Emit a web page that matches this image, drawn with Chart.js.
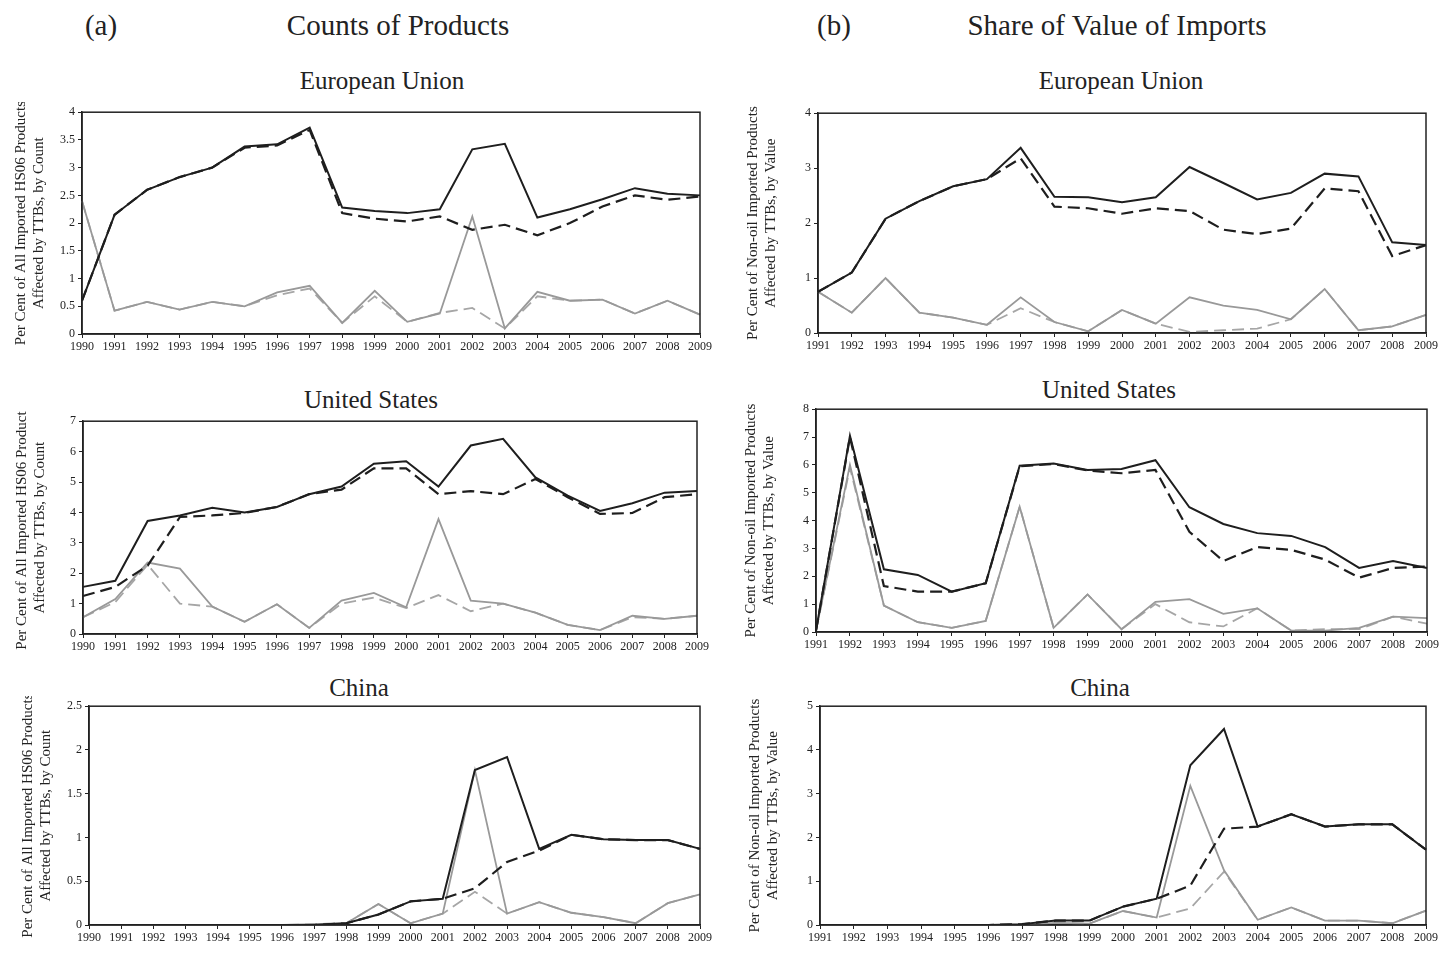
<!DOCTYPE html>
<html>
<head>
<meta charset="utf-8">
<script src="https://cdn.jsdelivr.net/npm/chart.js@4.4.1/dist/chart.umd.min.js"></script>
<style>
  body { margin: 0; background: #fff; width: 1442px; height: 954px; position: relative; overflow: hidden;
         font-family: "Liberation Serif", "Times New Roman", serif; color: #222; }
  .t { position: absolute; white-space: nowrap; line-height: 1; transform: translate(-50%, -50%); }
  .big { font-size: 29px; }
  .sub { font-size: 25px; }
  .box { position: absolute; }
</style>
</head>
<body>
<div class="t big" style="left:101px;top:25px">(a)</div>
<div class="t big" style="left:398px;top:25px">Counts of Products</div>
<div class="t big" style="left:834px;top:25px">(b)</div>
<div class="t big" style="left:1117px;top:25px">Share of Value of Imports</div>

<div class="t sub" style="left:382px;top:80px">European Union</div>
<div class="t sub" style="left:1121px;top:80px">European Union</div>
<div class="t sub" style="left:371px;top:399px">United States</div>
<div class="t sub" style="left:1109px;top:389px">United States</div>
<div class="t sub" style="left:359px;top:687px">China</div>
<div class="t sub" style="left:1100px;top:687px">China</div>

<script>
// years on the x axes
var yearsA = ['1990','1991','1992','1993','1994','1995','1996','1997','1998','1999','2000','2001','2002','2003','2004','2005','2006','2007','2008','2009'];
var yearsB = ['1991','1992','1993','1994','1995','1996','1997','1998','1999','2000','2001','2002','2003','2004','2005','2006','2007','2008','2009'];

// (a) counts of products - European Union
var euCountSolid    = [0.6,2.15,2.6,2.83,3.0,3.38,3.42,3.72,2.28,2.22,2.18,2.25,3.33,3.43,2.1,2.25,2.43,2.63,2.53,2.5];
var euCountDash     = [0.6,2.15,2.6,2.83,3.0,3.36,3.4,3.68,2.18,2.08,2.03,2.12,1.88,1.97,1.78,2.0,2.3,2.5,2.42,2.48];
var euCountGray     = [2.4,0.42,0.58,0.44,0.58,0.5,0.75,0.87,0.2,0.78,0.22,0.37,2.12,0.1,0.76,0.6,0.62,0.37,0.6,0.35];
var euCountGrayDash = [2.4,0.42,0.58,0.44,0.58,0.5,0.7,0.82,0.2,0.68,0.22,0.38,0.47,0.1,0.68,0.6,0.62,0.37,0.6,0.35];

// (b) share of value - European Union
var euValueSolid    = [0.75,1.1,2.08,2.4,2.67,2.8,3.37,2.48,2.47,2.38,2.47,3.02,2.73,2.43,2.55,2.9,2.85,1.65,1.6];
var euValueDash     = [0.75,1.1,2.08,2.4,2.67,2.8,3.18,2.3,2.27,2.17,2.27,2.22,1.88,1.8,1.9,2.63,2.58,1.4,1.6];
var euValueGray     = [0.75,0.37,1.0,0.37,0.28,0.15,0.65,0.2,0.03,0.42,0.17,0.65,0.5,0.42,0.25,0.8,0.05,0.12,0.33];
var euValueGrayDash = [0.75,0.37,1.0,0.37,0.28,0.15,0.45,0.2,0.03,0.42,0.17,0.02,0.05,0.08,0.25,0.8,0.05,0.12,0.33];

// (a) United States
var usCountSolid    = [1.55,1.75,3.72,3.9,4.15,4.0,4.18,4.6,4.85,5.6,5.68,4.85,6.2,6.42,5.15,4.55,4.05,4.3,4.65,4.7];
var usCountDash     = [1.25,1.55,2.25,3.85,3.9,3.98,4.18,4.6,4.75,5.45,5.45,4.6,4.7,4.6,5.1,4.5,3.95,3.98,4.5,4.6];
var usCountGray     = [0.55,1.15,2.35,2.15,0.9,0.4,0.98,0.2,1.1,1.35,0.88,3.78,1.1,1.0,0.7,0.3,0.13,0.6,0.5,0.6];
var usCountGrayDash = [0.55,1.05,2.28,1.0,0.9,0.4,0.98,0.2,1.0,1.2,0.85,1.28,0.75,1.0,0.7,0.3,0.13,0.55,0.5,0.6];

// (b) United States
var usValueSolid    = [0.05,7.05,2.25,2.05,1.45,1.75,5.97,6.05,5.82,5.85,6.17,4.48,3.88,3.55,3.45,3.05,2.3,2.55,2.3];
var usValueDash     = [0.05,7.0,1.65,1.45,1.45,1.75,5.95,6.03,5.8,5.7,5.82,3.6,2.55,3.05,2.95,2.6,1.95,2.3,2.35];
var usValueGray     = [0.05,6.0,0.95,0.35,0.15,0.4,4.5,0.15,1.35,0.1,1.08,1.18,0.65,0.85,0.05,0.05,0.15,0.55,0.5];
var usValueGrayDash = [0.05,5.9,0.95,0.35,0.15,0.4,4.5,0.15,1.35,0.1,1.0,0.35,0.2,0.85,0.05,0.1,0.1,0.55,0.3];

// (a) China
var cnCountSolid    = [0,0,0,0,0,0,0,0,0.02,0.12,0.27,0.3,1.77,1.92,0.87,1.03,0.98,0.97,0.97,0.87];
var cnCountDash     = [0,0,0,0,0,0,0,0,0.02,0.12,0.27,0.3,0.42,0.72,0.85,1.03,0.98,0.97,0.97,0.87];
var cnCountGray     = [0,0,0,0,0,0,0,0.01,0.02,0.24,0.02,0.13,1.77,0.13,0.26,0.14,0.09,0.02,0.25,0.35];
var cnCountGrayDash = [0,0,0,0,0,0,0,0.01,0.02,0.24,0.02,0.13,0.38,0.13,0.26,0.14,0.09,0.02,0.25,0.35];

// (b) China
var cnValueSolid    = [0,0,0,0,0,0,0.02,0.1,0.1,0.42,0.6,3.65,4.48,2.25,2.53,2.25,2.3,2.3,1.72];
var cnValueDash     = [0,0,0,0,0,0,0.02,0.1,0.1,0.42,0.6,0.9,2.2,2.25,2.53,2.25,2.3,2.3,1.72];
var cnValueGray     = [0,0,0,0,0,0,0,0.05,0.03,0.32,0.17,3.18,1.25,0.12,0.4,0.1,0.1,0.04,0.33];
var cnValueGrayDash = [0,0,0,0,0,0,0,0.05,0.03,0.32,0.17,0.38,1.22,0.12,0.4,0.1,0.1,0.04,0.33];

var countTitle = ['Per Cent of All Imported HS06 Products', 'Affected by TTBs, by Count'];
var valueTitle = ['Per Cent of Non-oil Imported Products', 'Affected by TTBs, by Value'];

// box around the plot area
var frame = {
    id: 'frame',
    afterDatasetsDraw: function (chart) {
        var a = chart.chartArea, ctx = chart.ctx;
        ctx.save();
        ctx.strokeStyle = '#222';
        ctx.lineWidth = 1.5;
        ctx.strokeRect(a.left, a.top, a.right - a.left, a.bottom - a.top);
        ctx.restore();
    }
};

function panel(L, T, R, B, labels, s, yMax, step, yTitle) {
    var left = L < 400;
    var yw = left ? 82 : 80, padTop = 10, padR = 16, xh = 26;
    var div = document.createElement('div');
    div.className = 'box';
    div.style.left = (L - yw) + 'px';
    div.style.top = (T - padTop) + 'px';
    div.style.width = (R - L + yw + padR) + 'px';
    div.style.height = (B - T + padTop + xh) + 'px';
    var cv = document.createElement('canvas');
    div.appendChild(cv);
    document.body.appendChild(div);

    var dash = [12, 6];
    new Chart(cv.getContext('2d'), {
        type: 'line',
        data: {
            labels: labels,
            datasets: [
                { data: s[0], borderColor: '#1e1e1e', borderWidth: 2 },
                { data: s[1], borderColor: '#1e1e1e', borderWidth: 2.2, borderDash: dash },
                { data: s[2], borderColor: '#999', borderWidth: 1.8 },
                { data: s[3], borderColor: '#a6a6a6', borderWidth: 1.8, borderDash: dash }
            ]
        },
        options: {
            responsive: true,
            maintainAspectRatio: false,
            animation: false,
            layout: { padding: { top: padTop, right: padR, left: 0, bottom: 0 } },
            elements: { point: { radius: 0 }, line: { tension: 0 } },
            plugins: { legend: { display: false }, tooltip: { enabled: false } },
            scales: {
                x: {
                    offset: false,
                    afterFit: function (sc) { sc.height = xh; },
                    grid: { display: true, drawOnChartArea: false, drawTicks: true, tickLength: 4, color: '#222' },
                    border: { display: true, color: '#222', width: 1.5 },
                    ticks: { autoSkip: false, maxRotation: 0, padding: 2, color: '#222',
                             font: { family: 'Liberation Serif', size: 12 } }
                },
                y: {
                    min: 0, max: yMax,
                    afterFit: function (sc) { sc.width = yw; },
                    grid: { display: true, drawOnChartArea: false, drawTicks: true, tickLength: 4, color: '#222' },
                    border: { display: true, color: '#222', width: 1.5 },
                    ticks: { stepSize: step, padding: 3, color: '#222',
                             font: { family: 'Liberation Serif', size: 12 },
                             callback: function (v) { return String(Math.round(v * 100) / 100); } },
                    title: { display: true, text: yTitle, color: '#222',
                             padding: { top: left ? 12 : 6, bottom: 0 },
                             font: { family: 'Liberation Serif', size: 15 } }
                }
            }
        },
        plugins: [frame]
    });
}

panel(82, 112, 700, 334, yearsA, [euCountSolid, euCountDash, euCountGray, euCountGrayDash], 4, 0.5, countTitle);
panel(818, 113, 1426, 333, yearsB, [euValueSolid, euValueDash, euValueGray, euValueGrayDash], 4, 1, valueTitle);
panel(83, 421, 697, 634, yearsA, [usCountSolid, usCountDash, usCountGray, usCountGrayDash], 7, 1, countTitle);
panel(816, 409, 1427, 632, yearsB, [usValueSolid, usValueDash, usValueGray, usValueGrayDash], 8, 1, valueTitle);
panel(89, 706, 700, 925, yearsA, [cnCountSolid, cnCountDash, cnCountGray, cnCountGrayDash], 2.5, 0.5, countTitle);
panel(820, 706, 1426, 925, yearsB, [cnValueSolid, cnValueDash, cnValueGray, cnValueGrayDash], 5, 1, valueTitle);
</script>
</body>
</html>
